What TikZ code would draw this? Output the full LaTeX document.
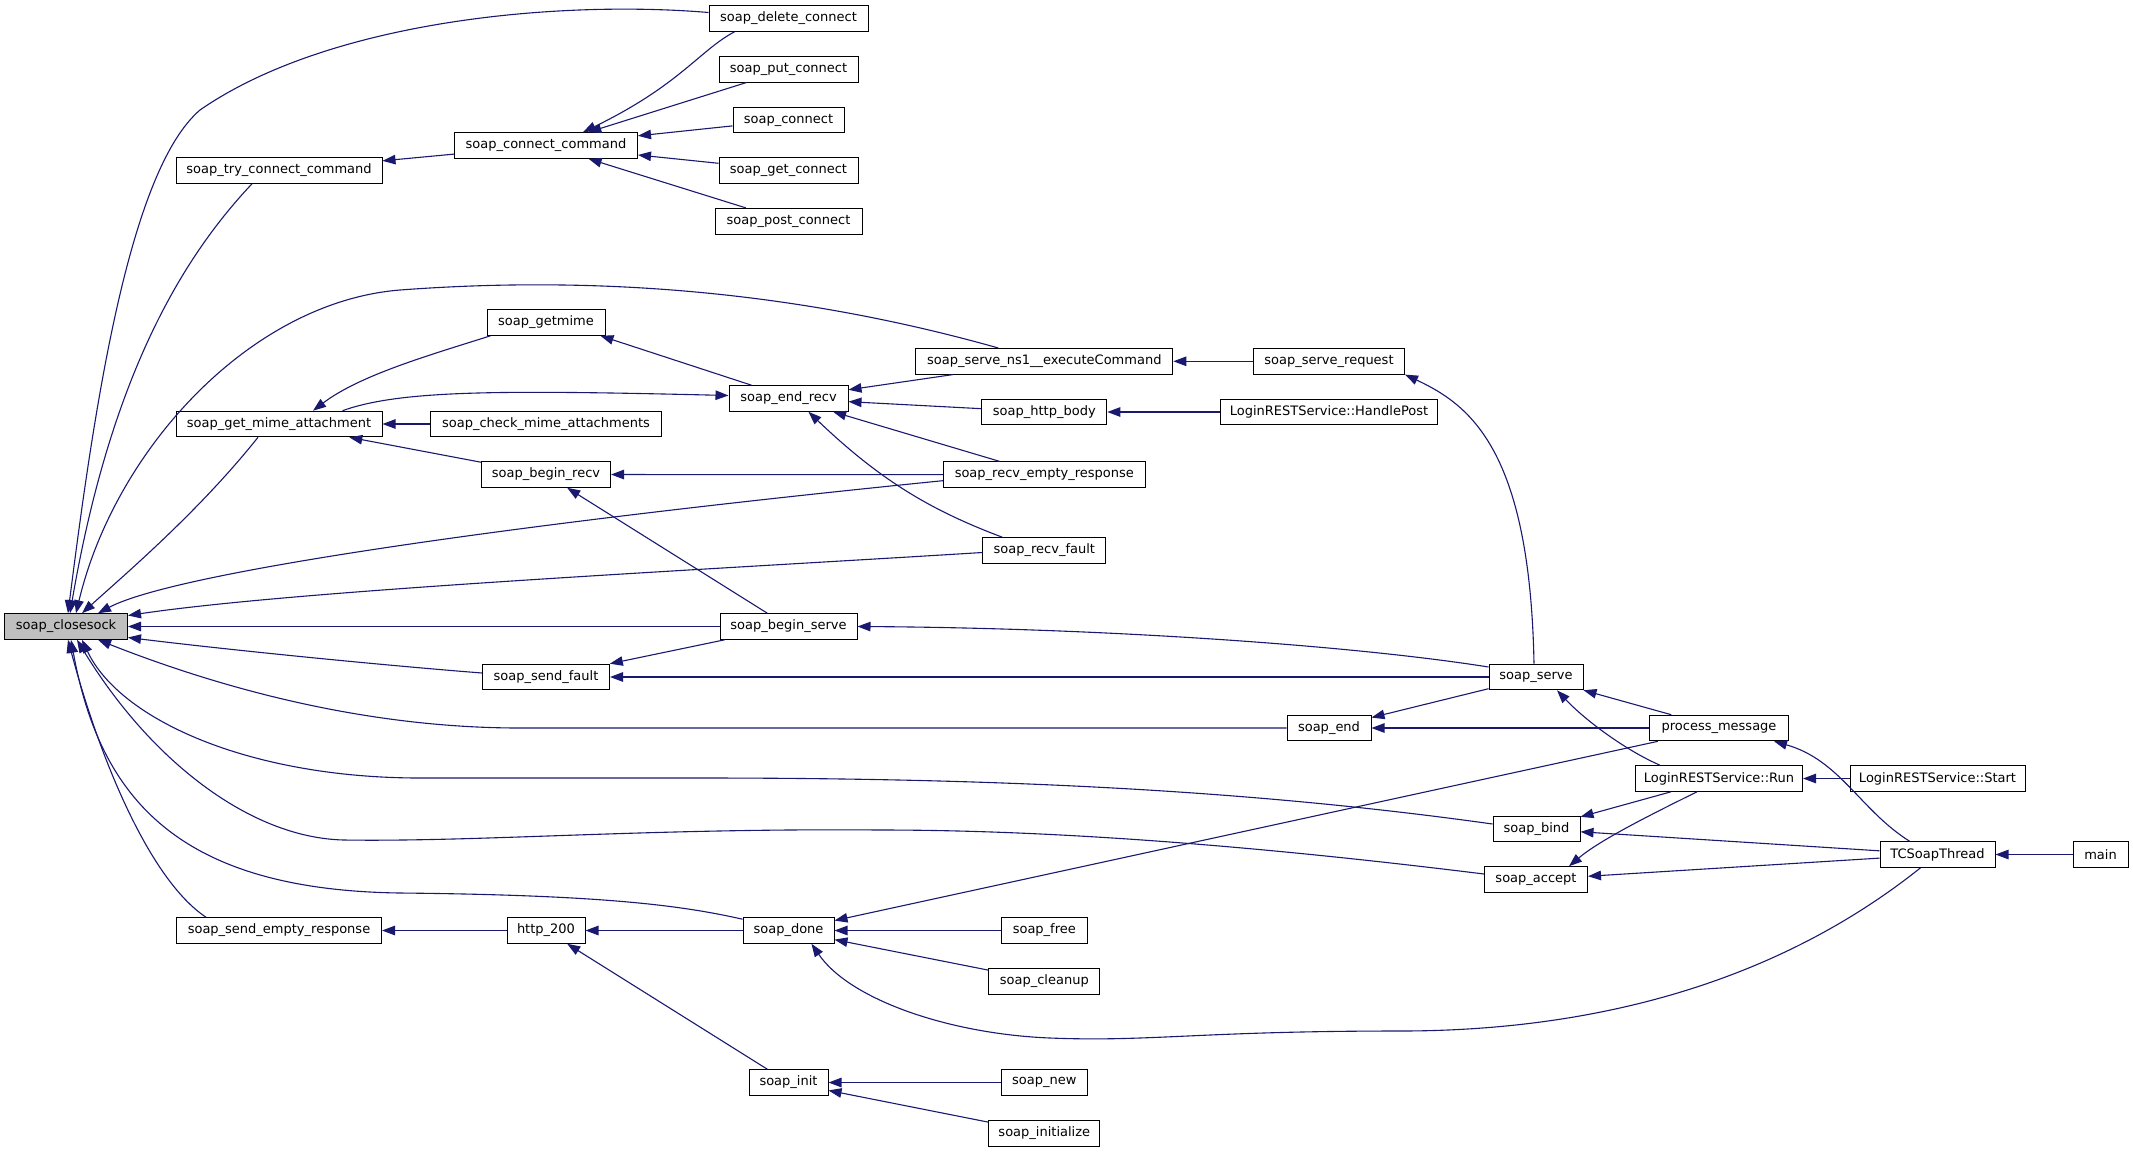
\documentclass[tikz,border=0pt]{standalone}
\usepackage{fontspec}
\setmainfont{DejaVu Sans}
\usetikzlibrary{arrows.meta,calc}
\definecolor{edgeblue}{HTML}{191970}
\definecolor{boxgray}{HTML}{BFBFBF}
\tikzset{
  fn/.style={draw=black, line width=1pt, fill=white, rectangle, inner sep=0pt,
    minimum height=25.6pt, font=\fontsize{13pt}{15pt}\selectfont},
  callarrow/.style={draw=edgeblue, line width=1.1pt, -{Triangle[length=13pt,width=9.5pt]}},
}
\begin{document}
\begin{tikzpicture}[x=1pt,y=-1pt]
\useasboundingbox[fill=white] (0,0) rectangle (2133,1152);
% nodes
\node[fn, minimum width=123, fill=boxgray] (cs) at (66,626.5) {soap\_closesock};
\node[fn, minimum width=206] (tcc) at (279,170.5) {soap\_try\_connect\_command};
\node[fn, minimum width=206] (gma) at (279,424) {soap\_get\_mime\_attachment};
\node[fn, minimum width=205] (ser) at (279,930.5) {soap\_send\_empty\_response};
\node[fn, minimum width=183] (cc) at (546,145.5) {soap\_connect\_command};
\node[fn, minimum width=118] (gm) at (546,322.5) {soap\_getmime};
\node[fn, minimum width=231] (cma) at (546,424) {soap\_check\_mime\_attachments};
\node[fn, minimum width=129] (br) at (546,474.5) {soap\_begin\_recv};
\node[fn, minimum width=127] (sf) at (546,677) {soap\_send\_fault};
\node[fn, minimum width=78] (h2) at (546,930.5) {http\_200};
\node[fn, minimum width=159] (dc) at (788.5,18.5) {soap\_delete\_connect};
\node[fn, minimum width=139] (pc) at (788.5,69.3) {soap\_put\_connect};
\node[fn, minimum width=111] (con) at (788.5,120) {soap\_connect};
\node[fn, minimum width=139] (gc) at (788.5,170.5) {soap\_get\_connect};
\node[fn, minimum width=147] (pcn) at (788.5,221.2) {soap\_post\_connect};
\node[fn, minimum width=119] (er) at (788.5,398.5) {soap\_end\_recv};
\node[fn, minimum width=137] (bs) at (788.5,626.5) {soap\_begin\_serve};
\node[fn, minimum width=91] (sd) at (788.5,930.5) {soap\_done};
\node[fn, minimum width=79] (si) at (788.5,1082.5) {soap\_init};
\node[fn, minimum width=257] (ec) at (1044.3,361.3) {soap\_serve\_ns1\_\_executeCommand};
\node[fn, minimum width=125] (hb) at (1044.3,412) {soap\_http\_body};
\node[fn, minimum width=202] (rer) at (1044.3,474.7) {soap\_recv\_empty\_response};
\node[fn, minimum width=123] (rf) at (1044.3,550.5) {soap\_recv\_fault};
\node[fn, minimum width=86] (sfree) at (1044.3,930.5) {soap\_free};
\node[fn, minimum width=111] (scl) at (1044.3,981.2) {soap\_cleanup};
\node[fn, minimum width=86] (snew) at (1044.3,1082.5) {soap\_new};
\node[fn, minimum width=111] (sini) at (1044.3,1133.2) {soap\_initialize};
\node[fn, minimum width=151] (sr) at (1329,361.3) {soap\_serve\_request};
\node[fn, minimum width=217] (hp) at (1329,412) {LoginRESTService::HandlePost};
\node[fn, minimum width=84] (se) at (1329,728) {soap\_end};
\node[fn, minimum width=94] (ss) at (1536,677) {soap\_serve};
\node[fn, minimum width=87] (sb) at (1536.5,829) {soap\_bind};
\node[fn, minimum width=103] (sa) at (1536,879.5) {soap\_accept};
\node[fn, minimum width=139] (pm) at (1719,728) {process\_message};
\node[fn, minimum width=167] (run) at (1719,778.5) {LoginRESTService::Run};
\node[fn, minimum width=175] (st) at (1937.5,778.5) {LoginRESTService::Start};
\node[fn, minimum width=115] (tc) at (1937.5,854.5) {TCSoapThread};
\node[fn, minimum width=55] (mn) at (2100.5,854.5) {main};
% edges into soap_closesock
\draw[callarrow] ($(dc.west)+(0,-6)$) .. controls (560,0) and (330,20) .. (200,110) .. controls (130,170) and (95,400) .. ($(cs.north)+(2,0)$);
\draw[callarrow] ($(tcc.south)+(-27,0)$) .. controls (180,260) and (110,380) .. ($(cs.north)+(4,0)$);
\draw[callarrow] ($(ec.north west)+(83,0)$) .. controls (800,292) and (600,275) .. (400,290) .. controls (250,302) and (115,450) .. ($(cs.north)+(10,0)$);
\draw[callarrow] ($(gma.south)+(-21,0)$) .. controls (200,510) and (130,570) .. ($(cs.north)+(16,0)$);
\draw[callarrow] ($(rer.west)+(0,6)$) .. controls (550,520) and (180,570) .. ($(cs.north east)+(-30,0)$);
\draw[callarrow] ($(rf.west)+(0,2)$) .. controls (700,570) and (300,590) .. ($(cs.east)+(0,-11)$);
\draw[callarrow] (bs) -- (cs);
\draw[callarrow] ($(sf.west)+(0,-4)$) .. controls (380,665) and (230,650) .. ($(cs.east)+(0,11)$);
\draw[callarrow] (se.west) -- (520,728) .. controls (350,728) and (200,680) .. ($(cs.south east)+(-30,0)$);
\draw[callarrow] ($(sb.west)+(0,-5)$) .. controls (1250,790) and (1000,778) .. (700,778) -- (420,778) .. controls (250,778) and (120,720) .. ($(cs.south)+(16,0)$);
\draw[callarrow] ($(sa.west)+(0,-5.5)$) .. controls (1250,845) and (1050,830) .. (880,830) .. controls (650,828) and (480,842) .. (344,840) .. controls (250,838) and (150,760) .. ($(cs.south)+(11,0)$);
\draw[callarrow] ($(sd.north west)+(0,2)$) .. controls (680,905) and (600,895) .. (400,893) .. controls (180,890) and (100,800) .. ($(cs.south)+(5,0)$);
\draw[callarrow] ($(ser.north west)+(30,0)$) .. controls (150,880) and (100,760) .. ($(cs.south)+(2,0)$);
% connect group
\draw[callarrow] ($(dc.south west)+(26,0)$) .. controls (700,50) and (680,85) .. ($(cc.north)+(37,0)$);
\draw[callarrow] (pc) -- (cc);
\draw[callarrow] (con) -- (cc);
\draw[callarrow] (gc) -- (cc);
\draw[callarrow] (pcn) -- (cc);
\draw[callarrow] (cc) -- (tcc);
% mime / recv group
\draw[callarrow] ($(gm.south west)+(4,0)$) .. controls (430,355) and (360,375) .. ($(gma.north)+(34,0)$);
\draw[callarrow] ($(er.north)+(-37,0)$) -- ($(gm.south east)+(-5,0)$);
\draw[callarrow] ($(gma.north east)+(-40,0)$) .. controls (400,390) and (500,390) .. ($(er.west)+(0,-3)$);
\draw[callarrow] (cma) -- (gma);
\draw[callarrow] (br) -- (gma);
\draw[callarrow] (rer) -- (br);
\draw[callarrow] (bs) -- (br);
\draw[callarrow] (bs) -- (sf);
\draw[callarrow] (ss) -- (sf);
\draw[callarrow] ($(ss.west)+(0,-10)$) .. controls (1350,645) and (1100,628) .. (bs.east);
\draw[callarrow] (ss) -- (se);
\draw[callarrow] (pm) -- (se);
\draw[callarrow] (pm) -- (ss);
\draw[callarrow] ($(run.north west)+(25,0)$) .. controls (1625,750) and (1585,720) .. ($(ss.south)+(21,0)$);
\draw[callarrow] ($(ss.north)+(-2,0)$) .. controls (1530,450) and (1470,405) .. (sr.south east);
\draw[callarrow] (sr) -- (ec);
\draw[callarrow] (ec) -- (er);
\draw[callarrow] (hb) -- (er);
\draw[callarrow] (rer) -- (er);
\draw[callarrow] ($(rf.north west)+(20,0)$) .. controls (930,510) and (880,480) .. ($(er.south east)+(-40,0)$);
\draw[callarrow] (hp) -- (hb);
% done / init group
\draw[callarrow] (sd) -- (h2);
\draw[callarrow] (h2) -- (ser);
\draw[callarrow] (si) -- (h2);
\draw[callarrow] (pm) -- (sd);
\draw[callarrow] (sfree) -- (sd);
\draw[callarrow] (scl) -- (sd);
\draw[callarrow] ($(tc.south)+(-17,0)$) .. controls (1780,980) and (1600,1031) .. (1400,1031) .. controls (1200,1031) and (1150,1042) .. (1050,1038) .. controls (950,1034) and (850,1000) .. ($(sd.south)+(23,0)$);
\draw[callarrow] (snew) -- (si);
\draw[callarrow] (sini) -- (si);
% service group
\draw[callarrow] (st) -- (run);
\draw[callarrow] (run) -- (sb);
\draw[callarrow] (tc) -- (sb);
\draw[callarrow] ($(run.south)+(-22,0)$) .. controls (1650,815) and (1600,840) .. ($(sa.north)+(33,0)$);
\draw[callarrow] (tc) -- (sa);
\draw[callarrow] ($(tc.north)+(-28,0)$) .. controls (1860,810) and (1840,760) .. ($(pm.south east)+(-15,0)$);
\draw[callarrow] (mn) -- (tc);
\end{tikzpicture}
\end{document}
